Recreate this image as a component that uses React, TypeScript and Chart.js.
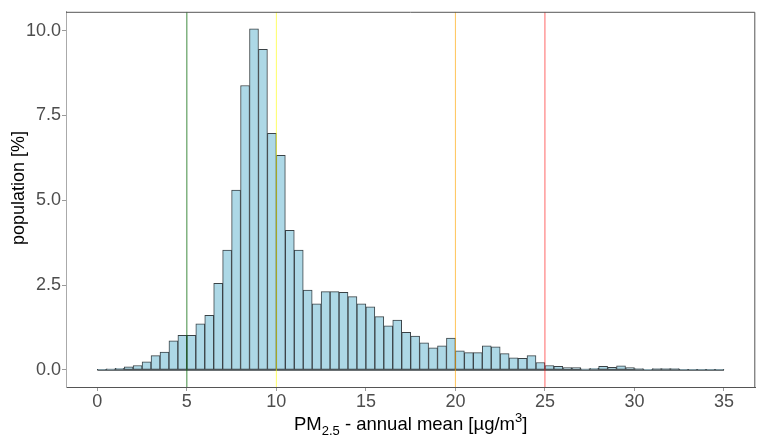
import React, { useEffect, useRef } from "react";
import { Chart, registerables } from "chart.js";

Chart.register(...registerables);

// ---- data ----
const BIN_START = 0;
const BIN_END = 35;
const BIN_WIDTH = 0.5;
const populationPct: number[] = [
  0.01, 0.03, 0.05, 0.09, 0.13, 0.24, 0.42, 0.53, 0.86, 1.02,
  1.02, 1.36, 1.61, 2.55, 3.53, 5.3, 8.38, 10.05, 9.45, 6.97,
  6.32, 4.11, 3.53, 2.35, 1.95, 2.31, 2.31, 2.29, 2.16, 1.95,
  1.86, 1.57, 1.3, 1.47, 1.11, 1.0, 0.8, 0.65, 0.71, 0.94,
  0.56, 0.51, 0.51, 0.71, 0.68, 0.48, 0.36, 0.34, 0.42, 0.22,
  0.13, 0.11, 0.07, 0.07, 0.03, 0.05, 0.11, 0.08, 0.12, 0.07,
  0.04, 0.02, 0.04, 0.04, 0.04, 0.01, 0.01, 0.01, 0.01, 0.01,
];
const xTicks: number[] = [0, 5, 10, 15, 20, 25, 30, 35];
const yTicks: number[] = [0, 2.5, 5, 7.5, 10];
const refLineValues: number[] = [5, 10, 20, 25];
const refLineColors: string[] = [
  "rgba(0,100,0,0.75)",
  "rgba(255,255,0,0.6)",
  "rgba(255,165,0,0.65)",
  "rgba(255,0,0,0.6)",
];

const X_MIN = -1.75;
const X_MAX = 36.75;
const Y_MIN = -0.5025;
const Y_MAX = 10.5525;

const FONT = "'Liberation Sans', Arial, sans-serif";
const BAR_EDGE = "#3a4246";

const titlePlugin = {
  id: "titlesAndFrame",
  afterDraw(chart: any) {
    const { ctx, chartArea } = chart;
    ctx.save();
    ctx.strokeStyle = "#555555";
    ctx.lineWidth = 1;
    ctx.beginPath();
    ctx.moveTo(chartArea.left, chartArea.top + 0.5);
    ctx.lineTo(chartArea.right - 0.5, chartArea.top + 0.5);
    ctx.lineTo(chartArea.right - 0.5, chartArea.bottom);
    ctx.stroke();

    ctx.fillStyle = "#000000";
    ctx.font = `18px ${FONT}`;
    ctx.translate(19, 188);
    ctx.rotate(-Math.PI / 2);
    ctx.textAlign = "center";
    ctx.textBaseline = "middle";
    ctx.fillText("population [%]", 0, 0);
    ctx.restore();

    ctx.save();
    ctx.fillStyle = "#000000";
    ctx.textAlign = "left";
    ctx.textBaseline = "alphabetic";
    const main = 18.5;
    const small = 13;
    const segs = [
      { t: "PM", s: main, dy: 0 },
      { t: "2.5", s: small, dy: 5 },
      { t: " - annual mean [\u00b5g/m", s: main, dy: 0 },
      { t: "3", s: small, dy: -8 },
      { t: "]", s: main, dy: 0 },
    ];
    let total = 0;
    for (const sg of segs) {
      ctx.font = `${sg.s}px ${FONT}`;
      total += ctx.measureText(sg.t).width;
    }
    const cx = (chartArea.left + chartArea.right) / 2;
    let x = cx - total / 2;
    const base = 430;
    for (const sg of segs) {
      ctx.font = `${sg.s}px ${FONT}`;
      ctx.fillText(sg.t, x, base + sg.dy);
      x += ctx.measureText(sg.t).width;
    }
    ctx.restore();
  },
};

export default function App() {
  const ref = useRef<HTMLCanvasElement | null>(null);

  useEffect(() => {
    if (!ref.current) return;
    const barData = populationPct.map((v, i) => ({
      x: BIN_START + BIN_WIDTH * i + BIN_WIDTH / 2,
      y: v,
    }));
    const lineSets = refLineValues.map((v, i) => ({
      type: "line" as const,
      data: [
        { x: v, y: Y_MIN },
        { x: v, y: Y_MAX },
      ],
      borderColor: refLineColors[i],
      borderWidth: 1,
      pointRadius: 0,
      fill: false,
      order: 0,
    }));
    const baseline = {
      type: "line" as const,
      data: [
        { x: BIN_START, y: 0 },
        { x: BIN_END, y: 0 },
      ],
      borderColor: BAR_EDGE,
      borderWidth: 1.5,
      pointRadius: 0,
      fill: false,
      order: 2,
    };
    const chart = new Chart(ref.current, {
      type: "bar",
      data: {
        datasets: [
          {
            type: "bar",
            data: barData,
            backgroundColor: "#ADD8E6",
            borderColor: BAR_EDGE,
            borderWidth: 1,
            borderSkipped: false,
            barPercentage: 1,
            categoryPercentage: 1,
            order: 1,
          } as any,
          baseline as any,
          ...(lineSets as any),
        ],
      },
      options: {
        animation: false,
        responsive: false,
        devicePixelRatio: 1,
        layout: { padding: { left: 0, top: 3, right: 1.7, bottom: 0 } },
        plugins: {
          legend: { display: false },
          tooltip: { enabled: false },
        },
        scales: {
          x: {
            type: "linear",
            min: X_MIN,
            max: X_MAX,
            offset: false,
            afterBuildTicks: (s: any) => {
              s.ticks = xTicks.map((v) => ({ value: v }));
            },
            afterFit: (s: any) => {
              s.height = 49;
            },
            grid: {
              display: true,
              offset: false,
              drawOnChartArea: false,
              drawTicks: true,
              tickLength: 4,
              color: "#9a9a9a",
            },
            border: { display: true, color: "#555555", width: 1 },
            ticks: {
              color: "#4d4d4d",
              font: { family: FONT, size: 18 },
              padding: 0,
              maxRotation: 0,
              autoSkip: false,
              callback: (v: any) => String(v),
            },
          },
          y: {
            type: "linear",
            min: Y_MIN,
            max: Y_MAX,
            afterBuildTicks: (s: any) => {
              s.ticks = yTicks.map((v) => ({ value: v }));
            },
            afterFit: (s: any) => {
              s.width = 66;
            },
            grid: {
              display: true,
              offset: false,
              drawOnChartArea: false,
              drawTicks: true,
              tickLength: 4,
              color: "#9a9a9a",
            },
            border: { display: true, color: "#aaaaaa", width: 1 },
            ticks: {
              color: "#4d4d4d",
              font: { family: FONT, size: 18 },
              padding: 1,
              autoSkip: false,
              callback: (v: any) => Number(v).toFixed(1),
            },
          },
        },
      },
      plugins: [titlePlugin],
    } as any);
    return () => chart.destroy();
  }, []);

  return (
    <div
      style={{
        position: "fixed",
        left: 0,
        top: 0,
        width: 757,
        height: 436,
        background: "#ffffff",
      }}
    >
      <canvas ref={ref} width={757} height={436} />
    </div>
  );
}
